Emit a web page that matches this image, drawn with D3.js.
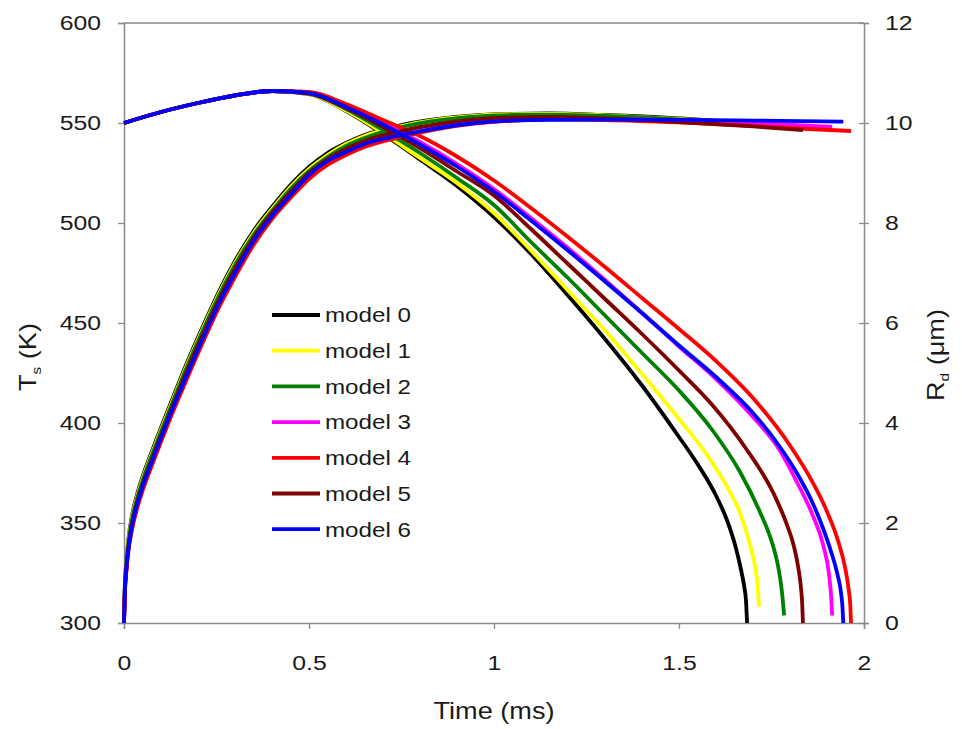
<!DOCTYPE html>
<html>
<head>
<meta charset="utf-8">
<script src="https://cdn.jsdelivr.net/npm/d3@7"></script>
<style>
  body { margin: 0; background: #fff; }
  text { font-family: "Liberation Sans", Arial, sans-serif; fill: #1a1a1a; }
</style>
</head>
<body>
<svg width="962" height="729"></svg>
<script>
// axis ticks
const timeTicks = [0, 0.5, 1, 1.5, 2]
const timeLabels = ["0", "0.5", "1", "1.5", "2"]
const tempTicks = [300, 350, 400, 450, 500, 550, 600]
const radTicks = [0, 2, 4, 6, 8, 10, 12]

const modelNames = ["model 0", "model 1", "model 2", "model 3", "model 4", "model 5", "model 6"]
const modelColors = ["#000000", "#ffff00", "#008000", "#ff00ff", "#ff0000", "#800000", "#0000ff"]

// droplet radius Rd (um) vs time (ms)
const rdRise = [[0, 10], [0.1, 10.22], [0.2, 10.4], [0.3, 10.55], [0.4, 10.64]]
const rd0 = rdRise.concat([[0.5, 10.58], [0.6, 10.24], [0.7, 9.78], [0.8, 9.27], [0.9, 8.74], [1.0, 8.12], [1.1, 7.38], [1.2, 6.55], [1.3, 5.68], [1.4, 4.75], [1.5, 3.72], [1.55, 3.18], [1.6, 2.55], [1.63, 2.05], [1.652, 1.55], [1.666, 1.12], [1.676, 0.74], [1.681, 0.45], [1.684, 0]])
const rd1 = rdRise.concat([[0.5, 10.58], [0.6, 10.25], [0.7, 9.8], [0.8, 9.3], [0.9, 8.8], [1.0, 8.2], [1.1, 7.45], [1.2, 6.65], [1.3, 5.85], [1.4, 4.98], [1.5, 4.08], [1.575, 3.37], [1.638, 2.62], [1.665, 2.2], [1.683, 1.8], [1.696, 1.45], [1.708, 1.02], [1.713, 0.7], [1.716, 0.33]])
const rd2 = rdRise.concat([[0.5, 10.59], [0.6, 10.28], [0.7, 9.86], [0.8, 9.4], [0.9, 8.9], [1.0, 8.36], [1.1, 7.62], [1.2, 6.9], [1.3, 6.15], [1.4, 5.4], [1.5, 4.65], [1.59, 3.86], [1.665, 3.02], [1.72, 2.2], [1.745, 1.75], [1.76, 1.39], [1.77, 1.05], [1.777, 0.7], [1.781, 0.42], [1.784, 0.15]])
const rd3 = rdRise.concat([[0.5, 10.6], [0.6, 10.34], [0.7, 10.0], [0.8, 9.62], [0.9, 9.18], [1.0, 8.68], [1.1, 8.1], [1.2, 7.5], [1.3, 6.86], [1.4, 6.2], [1.5, 5.53], [1.6, 4.88], [1.7, 4.12], [1.77, 3.48], [1.82, 2.8], [1.86, 2.18], [1.89, 1.55], [1.905, 1.0], [1.911, 0.55], [1.914, 0.15]])
const rd4 = rdRise.concat([[0.5, 10.62], [0.6, 10.38], [0.7, 10.06], [0.8, 9.74], [0.9, 9.33], [1.0, 8.85], [1.1, 8.3], [1.2, 7.72], [1.3, 7.12], [1.4, 6.5], [1.5, 5.88], [1.6, 5.24], [1.7, 4.5], [1.8, 3.55], [1.86, 2.83], [1.9, 2.23], [1.93, 1.64], [1.95, 1.07], [1.958, 0.7], [1.963, 0.35], [1.965, 0]])
const rd5 = rdRise.concat([[0.5, 10.59], [0.6, 10.3], [0.7, 9.92], [0.8, 9.5], [0.9, 9.03], [1.0, 8.55], [1.1, 7.88], [1.2, 7.18], [1.3, 6.48], [1.4, 5.78], [1.5, 5.05], [1.59, 4.36], [1.68, 3.5], [1.755, 2.6], [1.79, 2.0], [1.81, 1.55], [1.823, 1.08], [1.83, 0.68], [1.833, 0.38], [1.835, 0]])
const rd6 = rdRise.concat([[0.5, 10.6], [0.6, 10.32], [0.7, 9.97], [0.8, 9.57], [0.9, 9.13], [1.0, 8.63], [1.1, 8.05], [1.2, 7.45], [1.3, 6.83], [1.4, 6.2], [1.5, 5.55], [1.6, 4.92], [1.7, 4.2], [1.77, 3.55], [1.82, 2.98], [1.86, 2.42], [1.89, 1.88], [1.91, 1.45], [1.928, 0.98], [1.938, 0.6], [1.942, 0.3], [1.944, 0]])

// surface temperature Ts (K) vs time (ms)
const ts0 = [[0, 300], [0.002, 317], [0.006, 330], [0.012, 342], [0.02, 352], [0.035, 364], [0.05, 373], [0.08, 388], [0.12, 407], [0.17, 430], [0.21, 447], [0.26, 467], [0.3, 481], [0.35, 496], [0.4, 508], [0.45, 519], [0.5, 528], [0.55, 535], [0.6, 540], [0.65, 544], [0.75, 549], [0.85, 552], [0.95, 553.8], [1.05, 554.6], [1.15, 554.8], [1.3, 554], [1.5, 552.3], [1.684, 550]]
const ts1 = [[0, 300], [0.002, 316], [0.006, 329], [0.012, 341], [0.02, 351], [0.035, 363], [0.05, 372], [0.08, 387], [0.12, 406], [0.17, 429], [0.21, 446], [0.26, 466], [0.3, 480], [0.35, 495], [0.4, 507], [0.45, 518], [0.5, 527], [0.55, 534], [0.6, 539.5], [0.65, 543.5], [0.75, 548.5], [0.85, 551.8], [0.95, 553.6], [1.05, 554.4], [1.15, 554.6], [1.3, 553.8], [1.5, 552], [1.716, 549.5]]
const ts2 = [[0, 300], [0.002, 316], [0.006, 328], [0.012, 340], [0.02, 350], [0.035, 362], [0.05, 371], [0.08, 386], [0.12, 405], [0.17, 428], [0.21, 445], [0.26, 465], [0.3, 479], [0.35, 494], [0.4, 506], [0.45, 517], [0.5, 526], [0.55, 533], [0.6, 538.5], [0.65, 542.5], [0.75, 548], [0.85, 551.3], [0.95, 553.2], [1.05, 554], [1.15, 554.2], [1.3, 553.5], [1.5, 551.8], [1.7, 549.5], [1.784, 548.5]]
const ts3 = [[0, 300], [0.002, 314], [0.006, 326], [0.012, 337], [0.02, 346], [0.035, 358], [0.05, 367], [0.08, 382], [0.12, 401], [0.17, 423], [0.21, 440], [0.26, 460], [0.3, 474], [0.35, 490], [0.4, 503], [0.45, 513.5], [0.5, 523], [0.55, 530], [0.6, 535], [0.65, 539], [0.75, 543.5], [0.85, 547.5], [0.95, 550], [1.05, 551.3], [1.15, 552], [1.3, 552], [1.5, 551.3], [1.7, 550], [1.914, 548]]
const ts4 = [[0, 300], [0.002, 313], [0.006, 325], [0.012, 336], [0.02, 345], [0.035, 357], [0.05, 366], [0.08, 381], [0.12, 400], [0.17, 422], [0.21, 439], [0.26, 459], [0.3, 473], [0.35, 489], [0.4, 502], [0.45, 512.5], [0.5, 522], [0.55, 529], [0.6, 534], [0.65, 538], [0.75, 543], [0.85, 547], [0.95, 549.8], [1.05, 551.2], [1.15, 551.8], [1.3, 551.5], [1.5, 550.3], [1.7, 548.5], [1.85, 547], [1.965, 546]]
const ts5 = [[0, 300], [0.002, 315], [0.006, 327], [0.012, 338], [0.02, 348], [0.035, 360], [0.05, 369], [0.08, 384], [0.12, 403], [0.17, 426], [0.21, 443], [0.26, 463], [0.3, 477], [0.35, 492.5], [0.4, 505], [0.45, 515.5], [0.5, 525], [0.55, 532], [0.6, 537], [0.65, 541], [0.75, 546], [0.85, 549.5], [0.95, 551.8], [1.05, 552.8], [1.15, 553], [1.3, 552.3], [1.5, 550.5], [1.7, 548.3], [1.835, 546.5]]
const ts6 = [[0, 300], [0.002, 314], [0.006, 326], [0.012, 337], [0.02, 347], [0.035, 359], [0.05, 368], [0.08, 383], [0.12, 402], [0.17, 424], [0.21, 441], [0.26, 461], [0.3, 475], [0.35, 491], [0.4, 503.5], [0.45, 514], [0.5, 524], [0.55, 531], [0.6, 535.5], [0.65, 539.5], [0.75, 544], [0.85, 547.5], [0.95, 550], [1.05, 551.2], [1.15, 551.6], [1.3, 551.7], [1.5, 551.6], [1.7, 551.2], [1.944, 550.7]]

const rdSeries = [rd0, rd1, rd2, rd3, rd4, rd5, rd6]
const tsSeries = [ts0, ts1, ts2, ts3, ts4, ts5, ts6]

var plotLeft = 124, plotRight = 864, plotTop = 23, plotBottom = 623
var sx = 1.18   // text in the figure is stretched sideways

var svg = d3.select('svg')

var x_scale = d3.scaleLinear().domain([0, 2]).range([plotLeft, plotRight])
var yT_scale = d3.scaleLinear().domain([300, 600]).range([plotBottom, plotTop])
var yR_scale = d3.scaleLinear().domain([0, 12]).range([plotBottom, plotTop])

// frame top line
svg.append('line')
    .attr('x1', plotLeft).attr('x2', plotRight)
    .attr('y1', plotTop).attr('y2', plotTop)
    .attr('stroke', '#8a8a8a').attr('stroke-width', 1.5)

// left axis
var gl = svg.append('g')
    .attr('transform', 'translate(' + plotLeft + ',0)')
    .call(d3.axisLeft(yT_scale).tickValues(tempTicks).tickSizeOuter(0).tickSize(6))
gl.selectAll('text')
    .attr('x', -23 / sx)
    .attr('transform', 'scale(' + sx + ',1)')
    .style('font-size', '21px')

// right axis, ticks cross the line
var gr = svg.append('g')
    .attr('transform', 'translate(' + plotRight + ',0)')
    .call(d3.axisRight(yR_scale).tickValues(radTicks).tickSizeOuter(0).tickSize(5))
gr.selectAll('.tick line').attr('x1', -5)
gr.selectAll('text')
    .attr('x', 21 / sx)
    .attr('transform', 'scale(' + sx + ',1)')
    .style('font-size', '21px')

// bottom axis
var gb = svg.append('g')
    .attr('transform', 'translate(0,' + plotBottom + ')')
    .call(d3.axisBottom(x_scale).tickValues(timeTicks)
        .tickFormat(function (d, i) { return timeLabels[i] })
        .tickSizeOuter(0).tickSize(6))
gb.selectAll('text')
    .attr('y', 47).attr('dy', 0)
    .attr('transform', 'scale(' + sx + ',1)')
    .style('font-size', '21px')

svg.selectAll('.domain').attr('stroke', '#8a8a8a').attr('stroke-width', 1.5)
svg.selectAll('.tick line').attr('stroke', '#8a8a8a').attr('stroke-width', 1.3)
svg.selectAll('.tick text').attr('fill', '#1a1a1a')

// curves
var lineT = d3.line()
    .x(function (d) { return x_scale(d[0]) })
    .y(function (d) { return yT_scale(d[1]) })
    .curve(d3.curveMonotoneX)
var lineR = d3.line()
    .x(function (d) { return x_scale(d[0]) })
    .y(function (d) { return yR_scale(d[1]) })
    .curve(d3.curveMonotoneX)

modelNames.forEach(function (name, i) {
    svg.append('path')
        .attr('d', lineT(tsSeries[i]))
        .attr('fill', 'none')
        .attr('stroke', modelColors[i])
        .attr('stroke-width', 3.8)
    svg.append('path')
        .attr('d', lineR(rdSeries[i]))
        .attr('fill', 'none')
        .attr('stroke', modelColors[i])
        .attr('stroke-width', 3.8)
})

// legend
var legend = svg.append('g').attr('transform', 'translate(272,315)')
var rows = legend.selectAll('g')
    .data(modelNames)
    .enter()
    .append('g')
    .attr('transform', function (d, i) { return 'translate(0,' + (i * 35.7) + ')' })
rows.append('line')
    .attr('x1', 0).attr('x2', 48)
    .attr('stroke', function (d, i) { return modelColors[i] })
    .attr('stroke-width', 3.8)
rows.append('text')
    .attr('x', 53 / sx)
    .attr('dy', '0.36em')
    .attr('transform', 'scale(' + sx + ',1)')
    .style('font-size', '20.5px')
    .text(function (d) { return d })

// axis titles
svg.append('text')
    .attr('transform', 'translate(494,719) scale(' + sx + ',1)')
    .attr('text-anchor', 'middle')
    .style('font-size', '23px')
    .text('Time (ms)')

var tl = svg.append('text')
    .attr('transform', 'translate(36,357) rotate(-90) scale(' + sx + ',1)')
    .attr('text-anchor', 'middle')
    .style('font-size', '23px')
tl.append('tspan').text('T')
tl.append('tspan').attr('dy', 5).style('font-size', '13px').text('s')
tl.append('tspan').attr('dy', -5).text(' (K)')

var tr = svg.append('text')
    .attr('transform', 'translate(944,355) rotate(-90) scale(' + sx + ',1)')
    .attr('text-anchor', 'middle')
    .style('font-size', '23px')
tr.append('tspan').text('R')
tr.append('tspan').attr('dy', 5).style('font-size', '13px').text('d')
tr.append('tspan').attr('dy', -5).text(' (\u03bcm)')
</script>
</body>
</html>
